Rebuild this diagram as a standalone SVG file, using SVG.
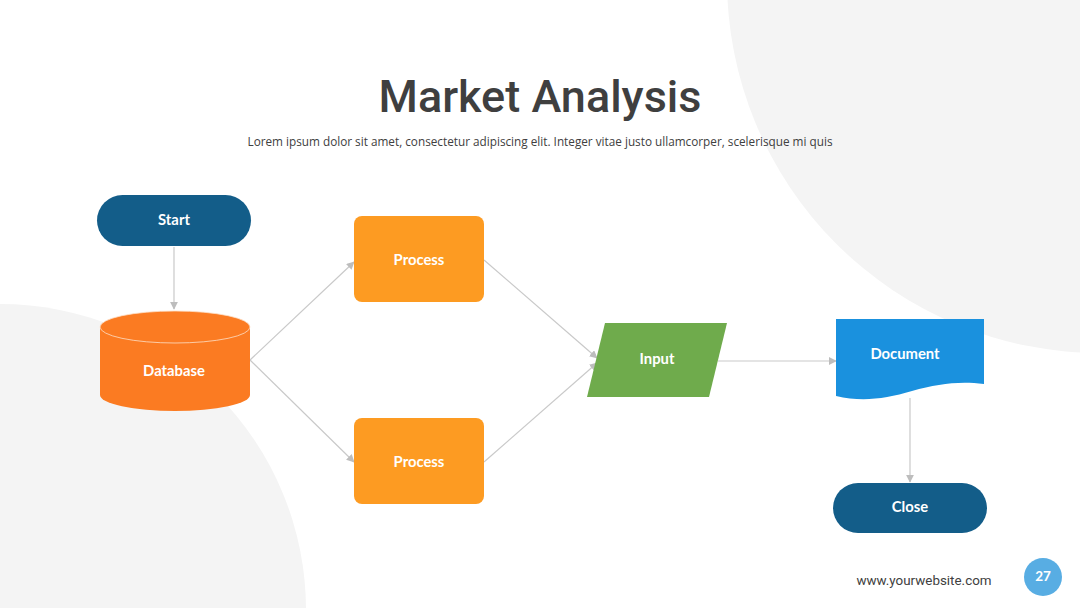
<svg xmlns="http://www.w3.org/2000/svg" width="1080" height="608" viewBox="0 0 1080 608">
<defs>
<style>
.lbl{font-family:Lato,"Open Sans","Liberation Sans",sans-serif;font-weight:700;font-size:14.8px;fill:#ffffff;text-anchor:middle;dominant-baseline:central}
.conn{stroke:#c9c9c9;stroke-width:1.2;fill:none;marker-end:url(#arr)}
.bg{fill:#f4f4f4}
</style>
<marker id="arr" viewBox="0 0 10 10" refX="9" refY="5" markerWidth="8" markerHeight="8" markerUnits="userSpaceOnUse" orient="auto">
<path d="M0,0 L10,5 L0,10 Z" fill="#bdbdbd"/>
</marker>
</defs>
<rect width="1080" height="608" fill="#ffffff"/>
<g id="background">
<circle class="bg" cx="1100" cy="-20" r="373"/>
<circle class="bg" cx="0" cy="610" r="306"/>
</g>
<g id="title">
<text x="540" y="112" text-anchor="middle" font-family="Roboto,'Liberation Sans',sans-serif" font-weight="500" font-size="45" fill="#3f3f3f">Market Analysis</text>
<text x="540" y="146" text-anchor="middle" font-family="'Open Sans',Lato,'Liberation Sans',sans-serif" font-size="12" fill="#404040" textLength="585" lengthAdjust="spacingAndGlyphs">Lorem ipsum dolor sit amet, consectetur adipiscing elit. Integer vitae justo ullamcorper, scelerisque mi quis</text>
</g>
<g id="connectors">
<line class="conn" x1="174" y1="247" x2="174" y2="309"/>
<line class="conn" x1="250" y1="360" x2="354" y2="262"/>
<line class="conn" x1="250" y1="360" x2="354" y2="462"/>
<line class="conn" x1="484" y1="260" x2="597" y2="358"/>
<line class="conn" x1="484" y1="462" x2="597" y2="363"/>
<line class="conn" x1="718" y1="361" x2="836" y2="361"/>
<line class="conn" x1="910" y1="398" x2="910" y2="482"/>
</g>
<g id="start">
<rect x="97" y="195" width="154" height="51" rx="25.5" fill="#135d89"/>
<text class="lbl" x="174" y="219">Start</text>
</g>
<g id="database">
<path d="M100,327 V395 A75,16 0 0 0 250,395 V327 Z" fill="#fb7b22"/>
<ellipse cx="175" cy="327" rx="75" ry="16" fill="#fb7b22" stroke="#fde0c8" stroke-width="0.8"/>
<text class="lbl" x="174" y="370">Database</text>
</g>
<g id="process1">
<rect x="354" y="216" width="130" height="86" rx="8" fill="#fd9b22"/>
<text class="lbl" x="419" y="259">Process</text>
</g>
<g id="process2">
<rect x="354" y="418" width="130" height="86" rx="8" fill="#fd9b22"/>
<text class="lbl" x="419" y="461">Process</text>
</g>
<g id="input">
<polygon points="605,323 727,323 709,397 587,397" fill="#6fab4c"/>
<text class="lbl" x="657" y="358">Input</text>
</g>
<g id="document">
<path d="M836,319 H984 V384 C958,381 938,384 912,391 C885,399 862,402 836,396 Z" fill="#1a91de"/>
<text class="lbl" x="905" y="353">Document</text>
</g>
<g id="close">
<rect x="833" y="483" width="154" height="50" rx="25" fill="#135d89"/>
<text class="lbl" x="910" y="506">Close</text>
</g>
<g id="footer">
<text x="924" y="585" text-anchor="middle" font-family="Roboto,'Liberation Sans',sans-serif" font-size="13.4" fill="#404040">www.yourwebsite.com</text>
<circle cx="1043" cy="577" r="19" fill="#58ade3"/>
<text x="1043" y="576" text-anchor="middle" dominant-baseline="central" font-family="Lato,'Open Sans',sans-serif" font-weight="700" font-size="13.5" fill="#ffffff">27</text>
</g>
</svg>
